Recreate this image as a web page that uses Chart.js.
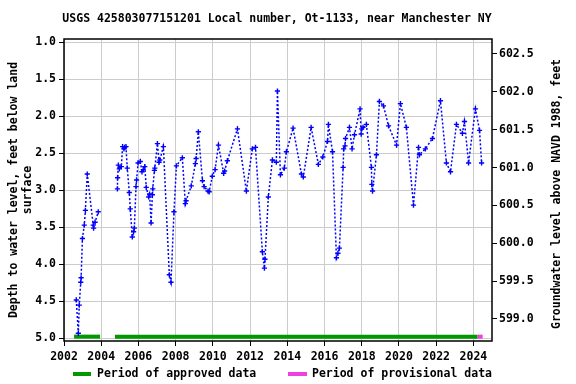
<!DOCTYPE html>
<html>
<head>
<meta charset="utf-8">
<script src="https://cdn.jsdelivr.net/npm/chart.js@4/dist/chart.umd.min.js"></script>
<style>
  html, body { margin: 0; padding: 0; background: #fff; }
  #wrap { width: 576px; height: 384px; }
</style>
</head>
<body>
<div id="wrap"><canvas id="gw" width="576" height="384"></canvas></div>
<script>
// ── DATA ────────────────────────────────────────
const TITLE = 'USGS 425803077151201 Local number, Ot-1133, near Manchester NY';
const RIGHT_TITLE = 'Groundwater level above NAVD 1988, feet';

// decimal years of each measurement (null = gap in record)
const dates = [
  2002.66, 2002.77, 2002.82, 2002.90, 2002.92, 2002.99, 2003.09, 2003.15, 2003.25, 2003.57,
  2003.59, 2003.67, 2003.84, null,
  2004.87, 2004.88, 2004.92, 2004.97, 2005.08, 2005.15, 2005.22, 2005.26, 2005.33, 2005.40,
  2005.51, 2005.56, 2005.67, 2005.74, 2005.78, 2005.87, 2005.90, 2005.98, 2006.10, 2006.19,
  2006.26, 2006.34, 2006.42, 2006.55, 2006.60, 2006.68, 2006.75, 2006.77, 2006.86, 2006.88,
  2007.02, 2007.11, 2007.15, 2007.34, 2007.66, 2007.75, 2007.91, 2008.04, 2008.36, 2008.52,
  2008.56, 2008.84, 2009.06, 2009.10, 2009.22, 2009.44, 2009.53, 2009.74, 2009.80, 2009.97,
  2010.12, 2010.30, 2010.58, 2010.63, 2010.78, 2011.32, 2011.80, 2012.12, 2012.29, 2012.66,
  2012.77, 2012.80, 2012.98, 2013.20, 2013.41, 2013.47, 2013.63, 2013.84, 2013.95, 2014.31,
  2014.76, 2014.86, 2015.28, 2015.67, 2015.91, 2016.16, 2016.21, 2016.43, 2016.64, 2016.72,
  2016.80, 2017.00, 2017.03, 2017.10, 2017.13, 2017.34, 2017.48, 2017.61, 2017.91, 2017.97,
  2018.00, 2018.07, 2018.25, 2018.52, 2018.54, 2018.58, 2018.79, 2018.95, 2019.17, 2019.44,
  2019.87, 2020.08, 2020.40, 2020.78, 2021.05, 2021.10, 2021.42, 2021.80, 2022.23, 2022.55,
  2022.77, 2023.09, 2023.41, 2023.52, 2023.74, 2024.11, 2024.33, 2024.44
];

// depth to water, feet below land surface
const depths = [
  4.48, 4.93, 4.55, 4.24, 4.18, 3.65, 3.47, 3.27, 2.78, 3.47,
  3.51, 3.43, 3.29, null,
  2.98, 2.83, 2.66, 2.71, 2.68, 2.41, 2.44, 2.42, 2.41, 2.70,
  3.03, 3.25, 3.63, 3.56, 3.51, 2.95, 2.86, 2.63, 2.61, 2.75,
  2.72, 2.68, 2.96, 3.09, 3.05, 3.44, 3.06, 2.98, 2.73, 2.70,
  2.37, 2.62, 2.59, 2.41, 4.14, 4.24, 3.29, 2.67, 2.56, 3.18,
  3.14, 2.94, 2.64, 2.57, 2.21, 2.87, 2.95, 3.01, 3.02, 2.81,
  2.72, 2.39, 2.77, 2.74, 2.60, 2.17, 3.01, 2.44, 2.42, 3.83,
  4.05, 3.93, 3.09, 2.59, 2.62, 1.66, 2.79, 2.70, 2.48, 2.16,
  2.78, 2.82, 2.15, 2.65, 2.55, 2.34, 2.11, 2.48, 3.91, 3.85,
  3.78, 2.69, 2.44, 2.40, 2.30, 2.15, 2.44, 2.25, 1.90, 2.24,
  2.17, 2.15, 2.11, 2.69, 2.92, 3.01, 2.52, 1.80, 1.86, 2.13,
  2.39, 1.83, 2.15, 3.20, 2.42, 2.52, 2.44, 2.30, 1.79, 2.63,
  2.75, 2.11, 2.23, 2.07, 2.63, 1.90, 2.19, 2.63
];

// approval periods [start, end] in decimal years
const approved = [[2002.54, 2003.94], [2004.74, 2024.22]];
const provisional = [[2024.22, 2024.50]];
const BAR_DEPTH = 4.975;

const xTicks = [2002, 2004, 2006, 2008, 2010, 2012, 2014, 2016, 2018, 2020, 2022, 2024];
const depthTicks = [1.0, 1.5, 2.0, 2.5, 3.0, 3.5, 4.0, 4.5, 5.0];
const elevTicks = [599.0, 599.5, 600.0, 600.5, 601.0, 601.5, 602.0, 602.5];

// ── COLORS / FONTS ──────────────────────────────
const BLUE = '#0000ff';
const GREEN = '#009900';
const PINK = '#f040e0';
const GRID = '#cccccc';
const MONO = "'DejaVu Sans Mono', 'Liberation Mono', monospace";
const FS = 11.5;
const tickFont = { family: MONO, size: FS, weight: 'bold' };

// ── BUILD DATASETS ──────────────────────────────
const levelPts = dates.map((d, i) => ({ x: d === null ? 2004.3 : d, y: depths[i] }));

const barSets = [
  ...approved.map(p => ({ pts: p, color: GREEN })),
  ...provisional.map(p => ({ pts: p, color: PINK }))
].map(b => ({
  type: 'line',
  data: [{ x: b.pts[0], y: BAR_DEPTH }, { x: b.pts[1], y: BAR_DEPTH }],
  borderColor: b.color,
  borderWidth: 4,
  borderCapStyle: 'butt',
  pointRadius: 0,
  yAxisID: 'y',
  order: 2
}));

// ── PLUGINS ─────────────────────────────────────
const frameAndText = {
  id: 'frameAndText',
  afterDraw(chart) {
    const { ctx, chartArea: a } = chart;
    ctx.save();
    ctx.strokeStyle = '#000';
    ctx.lineWidth = 1.5;
    ctx.strokeRect(a.left, a.top, a.right - a.left, a.bottom - a.top);

    ctx.fillStyle = '#000';
    ctx.font = `bold ${FS}px ${MONO}`;
    ctx.textBaseline = 'middle';
    ctx.textAlign = 'center';
    ctx.fillText(TITLE, 277, 19);

    // right axis title, reads bottom to top
    ctx.save();
    ctx.translate(557, 194);
    ctx.rotate(-Math.PI / 2);
    ctx.fillText(RIGHT_TITLE, 0, 0);
    ctx.restore();

    // legend
    ctx.textAlign = 'left';
    ctx.lineWidth = 4;
    ctx.strokeStyle = GREEN;
    ctx.beginPath(); ctx.moveTo(73, 374); ctx.lineTo(91, 374); ctx.stroke();
    ctx.fillText('Period of approved data', 97, 374);
    ctx.strokeStyle = PINK;
    ctx.beginPath(); ctx.moveTo(288, 374); ctx.lineTo(307, 374); ctx.stroke();
    ctx.fillText('Period of provisional data', 312, 374);
    ctx.restore();
  }
};

// ── CHART ───────────────────────────────────────
new Chart(document.getElementById('gw'), {
  type: 'line',
  data: {
    datasets: [
      {
        label: 'Depth to water',
        data: levelPts,
        borderColor: BLUE,
        borderWidth: 1.5,
        borderDash: [2, 2],
        pointStyle: 'cross',
        pointRadius: 2.6,
        pointBorderWidth: 1.4,
        pointBorderColor: BLUE,
        spanGaps: false,
        tension: 0,
        yAxisID: 'y',
        order: 1
      },
      ...barSets
    ]
  },
  options: {
    responsive: false,
    animation: false,
    devicePixelRatio: 1,
    layout: { padding: { top: 39, left: 0, right: 0, bottom: 0 } },
    plugins: { legend: { display: false }, tooltip: { enabled: false }, title: { display: false } },
    scales: {
      x: {
        type: 'linear',
        min: 2002, max: 2025,
        afterFit: s => { s.height = 43; },
        afterBuildTicks: s => { s.ticks = xTicks.map(v => ({ value: v })); },
        ticks: { font: tickFont, color: '#000', padding: 4, maxRotation: 0, callback: v => String(v) },
        grid: { color: GRID, lineWidth: 1, tickLength: 5, tickColor: '#000' },
        border: { display: false }
      },
      y: {
        type: 'linear',
        position: 'left',
        reverse: true,
        min: 0.957, max: 5.034,
        afterFit: s => { s.width = 64; },
        afterBuildTicks: s => { s.ticks = depthTicks.map(v => ({ value: v })); },
        ticks: { font: tickFont, color: '#000', padding: 3, callback: v => v.toFixed(1) },
        grid: { color: GRID, lineWidth: 1, tickLength: 5, tickColor: '#000' },
        border: { display: false },
        title: {
          display: true,
          text: ['Depth to water level, feet below land', 'surface'],
          font: tickFont, color: '#000', padding: { top: 7, bottom: 0 }
        }
      },
      y2: {
        type: 'linear',
        position: 'right',
        min: 598.708, max: 602.698,
        afterFit: s => { s.width = 84; },
        afterBuildTicks: s => { s.ticks = elevTicks.map(v => ({ value: v })); },
        ticks: { font: tickFont, color: '#000', padding: 2, callback: v => v.toFixed(1) },
        grid: { drawOnChartArea: false, tickLength: 5, tickColor: '#000' },
        border: { display: false }
      }
    }
  },
  plugins: [frameAndText]
});
</script>
</body>
</html>
